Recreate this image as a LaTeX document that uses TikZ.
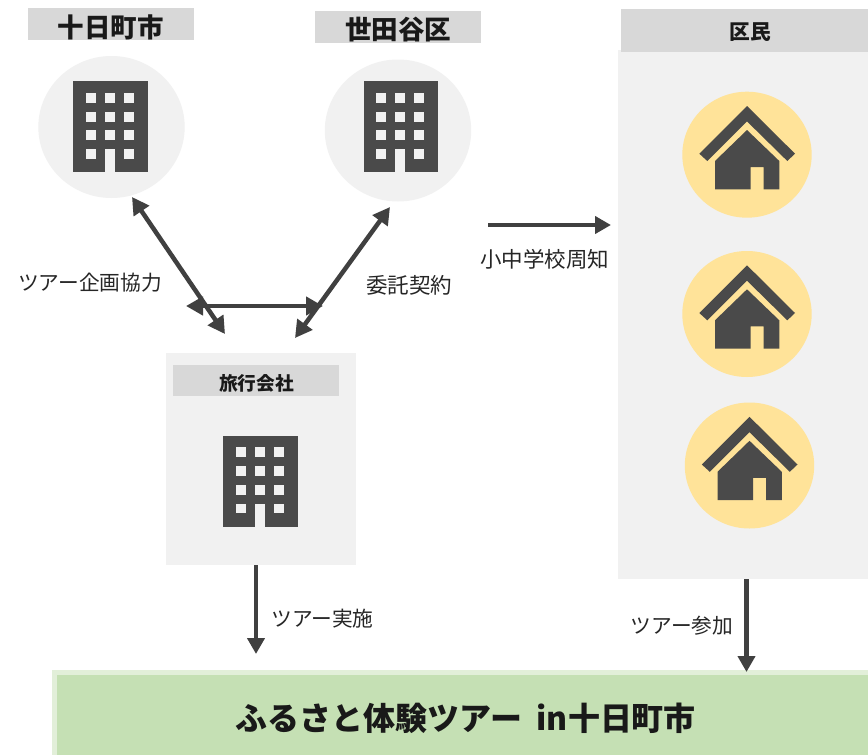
\documentclass[tikz,border=0pt]{standalone}
\usepackage{fontspec}
\setmainfont{Noto Sans CJK JP}
\usetikzlibrary{arrows.meta,shapes.geometric}
\definecolor{panelgrey}{HTML}{F1F1F1}
\definecolor{headgrey}{HTML}{D8D8D8}
\definecolor{icongrey}{HTML}{4A4A4A}
\definecolor{arrowgrey}{HTML}{404040}
\definecolor{homeyellow}{HTML}{FFE399}
\definecolor{greenfill}{HTML}{C5E0B4}
\definecolor{greenedge}{HTML}{E2EFD9}
\tikzset{
  box/.style={rectangle,inner sep=0pt,outer sep=0pt,anchor=north west},
  panelbox/.style={box,fill=panelgrey},
  headbox/.style={box,fill=headgrey},
  roundbg/.style={ellipse,inner sep=0pt,outer sep=0pt,fill=panelgrey},
  label/.style={inner sep=0pt,font=\fontsize{20.7}{24}\selectfont,text=black!85},
  labelwide/.style={inner sep=0pt,font=\fontsize{21.5}{25}\selectfont,text=black!85},
  title/.style={inner sep=0pt,font=\fontsize{26.5}{30}\selectfont\bfseries,text=black!90},
  link/.style={draw=arrowgrey,line width=4.5pt},
  onehead/.style={link,-{Triangle[length=16pt,width=17pt]}},
  twohead/.style={link,{Triangle[length=17pt,width=18pt]}-{Triangle[length=17pt,width=18pt]}},
  building/.pic={
    \fill[icongrey] (-37.3,-45.5) rectangle (37.3,45.5);
    \foreach \wx in {-24.7,-5.6,13.4}{
      \foreach \wy in {-33.7,-14.7,3.9,22.5}{
        \fill[panelgrey] (\wx,\wy) rectangle ++(9.8,9.8);
      }
    }
    \fill[panelgrey] (-5.6,22.5) rectangle (4.2,45.6);
  },
  house/.pic={
    \fill[icongrey] (0,-48.7) -- (-47.7,-1) -- (-39.7,6.3) -- (0,-33.3) -- (40.3,6.3) -- (48,-1) -- cycle;
    \fill[icongrey] (-32,6.3) -- (0,-24.7) -- (32.3,6.3) -- (32.3,34.7) -- (16.7,34.7) -- (16.7,12.3) -- (3.7,12.3) -- (3.7,34.7) -- (-32,34.7) -- cycle;
  }
}
\begin{document}
\begin{tikzpicture}[x=1pt,y=-1pt]
\useasboundingbox (0,0) rectangle (868,755);
\fill[white] (0,0) rectangle (868,755);
% headers top-left
\node[headbox,minimum width=166pt,minimum height=32pt] (tokamachiHead) at (28,8) {};
\node[title] (tokamachiText) at (110.5,27) {十日町市};
\node[headbox,minimum width=166pt,minimum height=32pt] (setagayaHead) at (315,11) {};
\node[title] (setagayaText) at (398,30) {世田谷区};
% circles with buildings
\node[roundbg,minimum width=146.4pt,minimum height=142pt] (tokamachi) at (111.5,127) {};
\pic at (110.5,126.5) {building};
\node[roundbg,minimum width=146.4pt,minimum height=142pt] (setagaya) at (398,130.5) {};
\pic at (401,126.5) {building};
% travel company
\node[panelbox,minimum width=190pt,minimum height=212pt] (agency) at (166,353) {};
\node[headbox,minimum width=166pt,minimum height=31pt] (agencyHead) at (173,365) {};
\node[inner sep=0pt,font=\fontsize{18.7}{22}\selectfont\bfseries,text=black!90] (agencyText) at (256.5,383) {旅行会社};
\pic at (260.5,481) {building};
% residents
\node[panelbox,minimum width=250pt,minimum height=529pt] (residents) at (618,50) {};
\node[headbox,minimum width=247pt,minimum height=43pt] (residentsHead) at (621,9) {};
\node[inner sep=0pt,font=\fontsize{20.7}{24}\selectfont\bfseries,text=black!90] (residentsText) at (750,32) {区民};
\foreach \nm/\cx/\cy in {homeA/747/154.7,homeB/747/314,homeC/749.5/465.5}{
  \node[ellipse,inner sep=0pt,outer sep=0pt,fill=homeyellow,minimum width=129.4pt,minimum height=126pt] (\nm) at (\cx,\cy) {};
  \pic at (\cx,\cy) {house};
}
% tour band
\node[box,fill=greenedge,minimum width=816pt,minimum height=85pt] (tourEdge) at (52,670) {};
\node[box,fill=greenfill,minimum width=811pt,minimum height=80pt] (tour) at (57,675) {};
\node[inner sep=0pt,font=\fontsize{32}{36}\selectfont\bfseries,text=black!90] (tourText) at (466,718) {ふるさと体験ツアー\ \ in十日町市};
% labels
\node[label] (lblPlan) at (90,283) {ツアー企画協力};
\node[labelwide] (lblContract) at (409,285) {委託契約};
\node[labelwide] (lblNotice) at (544.5,259) {小中学校周知};
\node[label] (lblRun) at (322.5,619) {ツアー実施};
\node[label] (lblJoin) at (682,626) {ツアー参加};
% connector ends
\coordinate (a1s) at (132,197);
\coordinate (a1e) at (225,334);
\coordinate (a2s) at (390,207);
\coordinate (a2e) at (295,338);
\coordinate (a3s) at (186,306);
\coordinate (a3e) at (323,306);
\coordinate (a4s) at (488,225);
\coordinate (a4e) at (611,225);
\coordinate (a5s) at (256,565);
\coordinate (a5e) at (256,654);
\coordinate (a6s) at (746.5,579);
\coordinate (a6e) at (746.5,672);
\draw[twohead] (a1s) -- (a1e);
\draw[twohead] (a2s) -- (a2e);
\draw[twohead] (a3s) -- (a3e);
\draw[onehead] (a4s) -- (a4e);
\draw[onehead] (a5s) -- (a5e);
\draw[onehead] (a6s) -- (a6e);
\end{tikzpicture}
\end{document}
